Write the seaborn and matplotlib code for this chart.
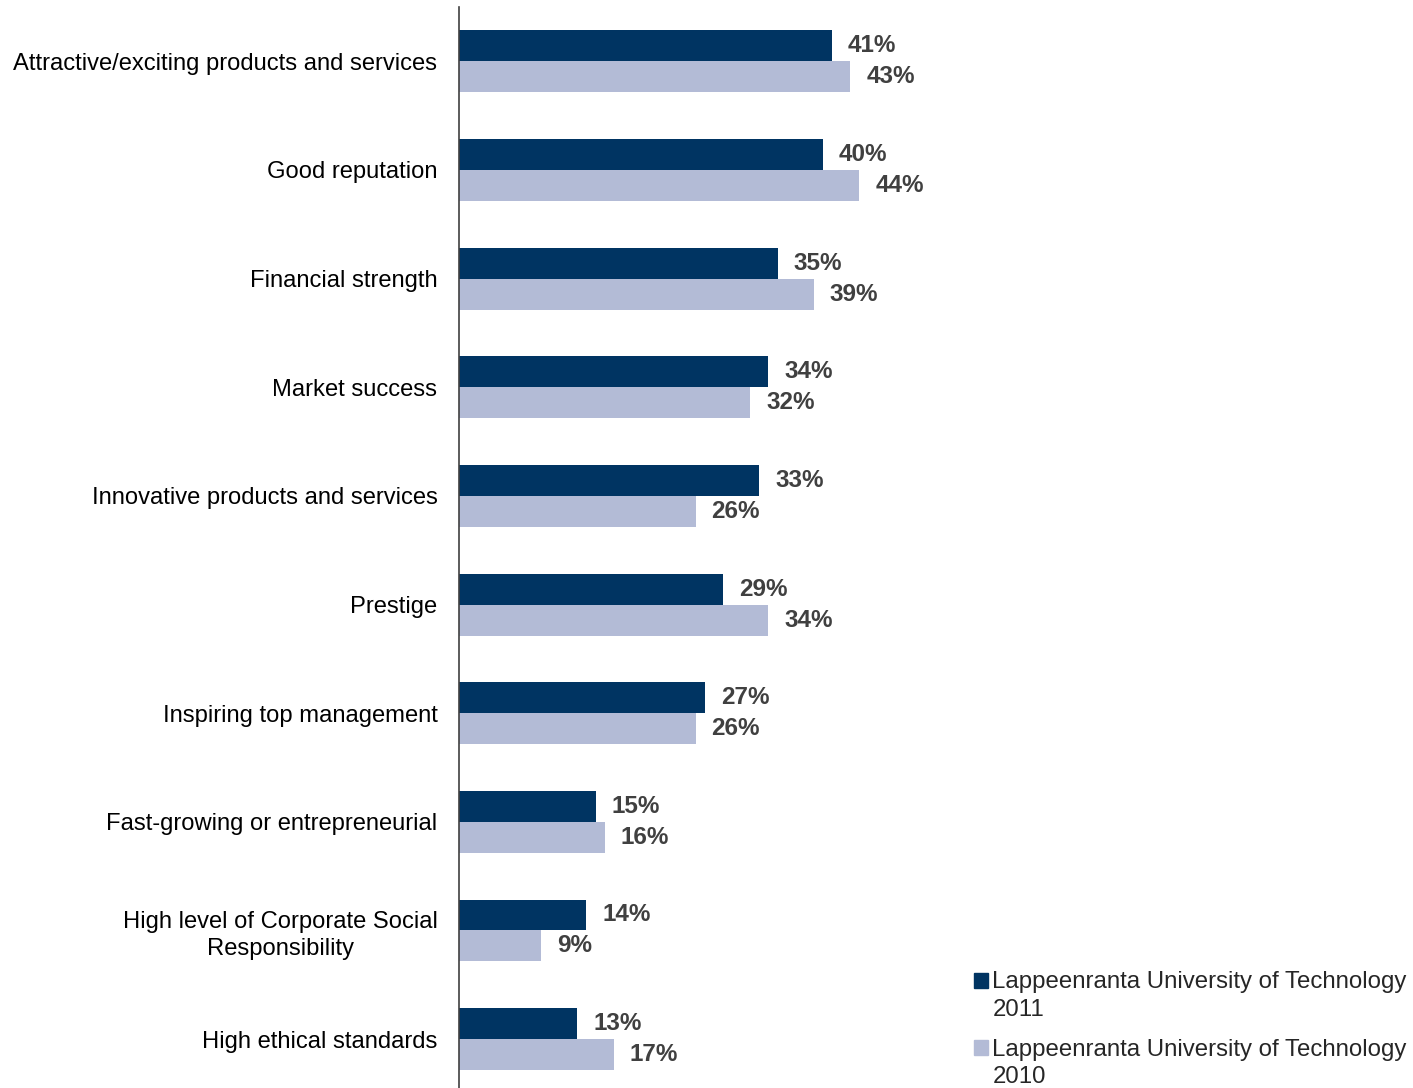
import matplotlib
matplotlib.use("Agg")
import matplotlib.pyplot as plt
from matplotlib.legend_handler import HandlerPatch
import pandas as pd
import seaborn as sns

categories = [
    "Attractive/exciting products and services",
    "Good reputation",
    "Financial strength",
    "Market success",
    "Innovative products and services",
    "Prestige",
    "Inspiring top management",
    "Fast-growing or entrepreneurial",
    "High level of Corporate Social\nResponsibility",
    "High ethical standards",
]
values_2011 = [41, 40, 35, 34, 33, 29, 27, 15, 14, 13]
values_2010 = [43, 44, 39, 32, 26, 34, 26, 16, 9, 17]
series_names = [
    "Lappeenranta University of Technology\n2011",
    "Lappeenranta University of Technology\n2010",
]
colors = ["#003462", "#B3BBD6"]

df = pd.DataFrame({
    "category": categories * 2,
    "value": values_2011 + values_2010,
    "series": [series_names[0]] * len(categories) + [series_names[1]] * len(categories),
})

sns.set_style("white")
plt.rcParams["font.family"] = ["Liberation Sans", "DejaVu Sans"]

fig = plt.figure(figsize=(14.13, 10.88), dpi=100)
ax = fig.add_axes([459 / 1413, 0.0, 1 - 459 / 1413, 1 - 7 / 1088])

sns.barplot(data=df, x="value", y="category", hue="series", orient="h",
            palette=colors, width=0.57, saturation=1, linewidth=0,
            ax=ax, legend=False)

for cont in ax.containers:
    ax.bar_label(cont, labels=[f"{v:.0f}%" for v in cont.datavalues],
                 padding=11.5, fontsize=17.5, fontweight="bold", color="#404040")

ax.set_xlim(0, 954 / 9.1)
ax.set_ylim(9.45, -0.5)
ax.set_xlabel("")
ax.set_ylabel("")
ax.set_xticks([])
ax.tick_params(axis="y", length=0, pad=15.5, labelsize=17.1, labelcolor="black")
for lbl in ax.get_yticklabels():
    lbl.set_horizontalalignment("right")
    lbl.set_multialignment("center")
    lbl.set_linespacing(1.3)

for side in ["top", "right", "bottom"]:
    ax.spines[side].set_visible(False)
ax.spines["left"].set_color("#404040")
ax.spines["left"].set_linewidth(1.2)


# square marker next to the first line of a two-line label
def top_square(legend, orig_handle, xdescent, ydescent, width, height, fontsize):
    return plt.Rectangle((-xdescent, -ydescent + 0.66 * fontsize), width, height)


handles = [plt.Rectangle((0, 0), 1, 1, color=c) for c in colors]
fig.legend(handles, series_names, loc="lower left",
           bbox_to_anchor=(964 / 1413, -0.0085), frameon=False,
           fontsize=17.3, handlelength=0.58, handleheight=0.58,
           handletextpad=0.2, labelspacing=0.75, borderaxespad=0,
           handler_map={plt.Rectangle: HandlerPatch(patch_func=top_square)})
for t in fig.legends[0].get_texts():
    t.set_linespacing(1.3)

fig.savefig("out.png", dpi=100)
